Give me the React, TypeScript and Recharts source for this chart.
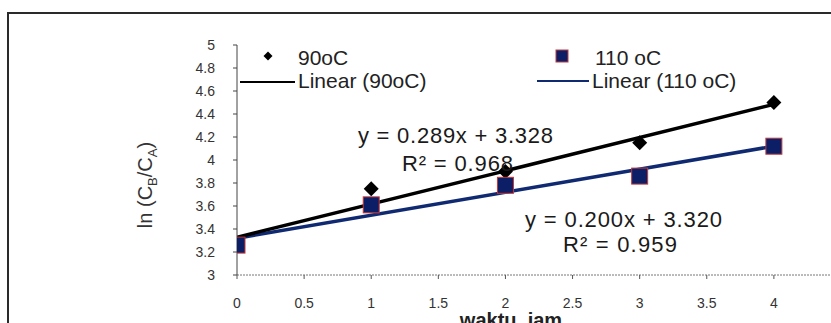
import React from "react";
import { ComposedChart, Scatter, Line, XAxis, YAxis } from "recharts";

const hours = [0, 1, 2, 3, 4];
const values90 = [3.27, 3.75, 3.9, 4.15, 4.5];
const values110 = [3.26, 3.61, 3.78, 3.86, 4.12];
const trendX = [0, 4];
const trend90Y = [3.328, 4.484];
const trend110Y = [3.32, 4.12];
const xTicks = [0, 0.5, 1, 1.5, 2, 2.5, 3, 3.5, 4, 4.5];
const yTicks = [3, 3.2, 3.4, 3.6, 3.8, 4, 4.2, 4.4, 4.6, 4.8, 5];
const seriesNames = ["90oC", "110 oC"];
const trendNames = ["Linear (90oC)", "Linear (110 oC)"];
const eqLines90 = ["y = 0.289x + 3.328", "R² = 0.968"];
const eqLines110 = ["y = 0.200x + 3.320", "R² = 0.959"];
const xTitle = "waktu, jam";

const pts90 = hours.map((x, i) => ({ x, y: values90[i] }));
const pts110 = hours.map((x, i) => ({ x, y: values110[i] }));
const line90 = trendX.map((x, i) => ({ x, y: trend90Y[i] }));
const line110 = trendX.map((x, i) => ({ x, y: trend110Y[i] }));

const FONT = "'Liberation Sans', Arial, sans-serif";
const NAVY = "#0c1f66";
const BLUE_LINE = "#102a72";

const Diamond = (props: any) => {
  const { cx, cy } = props;
  const r = 7.5;
  return (
    <path
      d={`M${cx},${cy - r} L${cx + r},${cy} L${cx},${cy + r} L${cx - r},${cy} Z`}
      fill="#000"
    />
  );
};

const Square = (props: any) => {
  const { cx, cy } = props;
  const s = 16;
  return (
    <rect x={cx - s / 2} y={cy - s / 2} width={s} height={s} fill={NAVY} stroke="#c23a3a" strokeWidth={1} />
  );
};

export default function App() {
  return (
    <div
      style={{
        position: "fixed",
        left: 0,
        top: 0,
        width: 831,
        height: 323,
        overflow: "hidden",
        background: "#fff",
      }}
    >
      <div
        style={{
          position: "absolute",
          left: 7,
          top: 12,
          width: 900,
          height: 400,
          border: "2px solid #2a2a2a",
          boxSizing: "border-box",
        }}
      />
      <div style={{ position: "absolute", left: 0, top: 0 }}>
        <ComposedChart
          width={900}
          height={360}
          margin={{ top: 45, right: 59, bottom: 45, left: 0 }}
        >
          <XAxis
            type="number"
            dataKey="x"
            domain={[0, 4.5]}
            ticks={xTicks}
            allowDataOverflow
            height={40}
            interval={0}
            tickSize={4}
            tickMargin={19}
            axisLine={{ stroke: "#777", strokeDasharray: "2 1" }}
            tickLine={{ stroke: "#555" }}
            tick={{ fill: "#333", fontSize: 14, fontFamily: FONT }}
          />
          <YAxis
            type="number"
            domain={[3, 5]}
            ticks={yTicks}
            allowDataOverflow
            width={237}
            interval={0}
            tickSize={4}
            tickMargin={18}
            axisLine={{ stroke: "#444" }}
            tickLine={{ stroke: "#444" }}
            tick={{ fill: "#333", fontSize: 14, fontFamily: FONT }}
          />
          <Line data={line110} dataKey="y" stroke={BLUE_LINE} strokeWidth={3.5} dot={false} isAnimationActive={false} />
          <Line data={line90} dataKey="y" stroke="#000" strokeWidth={3.5} dot={false} isAnimationActive={false} />
          <Scatter data={pts90} dataKey="y" shape={Diamond} isAnimationActive={false} />
          <Scatter data={pts110} dataKey="y" shape={Square} isAnimationActive={false} />
        </ComposedChart>
      </div>
      <svg
        width={831}
        height={323}
        style={{ position: "absolute", left: 0, top: 0, pointerEvents: "none" }}
        fontFamily={FONT}
      >
        {/* legend */}
        <path d="M268,51.5 L272.5,56 L268,60.5 L263.5,56 Z" fill="#000" />
        <text x={298} y={65} fontSize={21} fill="#222">{seriesNames[0]}</text>
        <line x1={240} x2={295} y1={82} y2={82} stroke="#000" strokeWidth={2} />
        <text x={298} y={88} fontSize={21} fill="#222">{trendNames[0]}</text>
        <rect x={556} y={50} width={12} height={12} fill={NAVY} stroke="#c23a3a" strokeWidth={1} />
        <text x={595} y={65} fontSize={21} fill="#222">{seriesNames[1]}</text>
        <line x1={537} x2={589} y1={81} y2={81} stroke={BLUE_LINE} strokeWidth={2} />
        <text x={592} y={88} fontSize={21} fill="#222">{trendNames[1]}</text>
        {/* equations */}
        <text x={358} y={143} fontSize={22} fill="#1a1a1a" textLength={195} lengthAdjust="spacing">{eqLines90[0]}</text>
        <text x={402} y={171} fontSize={22} fill="#1a1a1a" textLength={111} lengthAdjust="spacing">{eqLines90[1]}</text>
        <text x={525} y={227} fontSize={22} fill="#1a1a1a" textLength={197} lengthAdjust="spacing">{eqLines110[0]}</text>
        <text x={563} y={252} fontSize={22} fill="#1a1a1a" textLength={114} lengthAdjust="spacing">{eqLines110[1]}</text>
        {/* y axis title */}
        <text
          transform="translate(152,185) rotate(-90)"
          textAnchor="middle"
          fontSize={20}
          fill="#333"
        >
          ln (C<tspan fontSize={13} dy={5}>B</tspan>
          <tspan dy={-5}>/C</tspan>
          <tspan fontSize={13} dy={5}>A</tspan>
          <tspan dy={-5}>)</tspan>
        </text>
        {/* x axis title */}
        <text x={511} y={327} textAnchor="middle" fontSize={20} fontWeight="bold" fill="#222">{xTitle}</text>
      </svg>
    </div>
  );
}
